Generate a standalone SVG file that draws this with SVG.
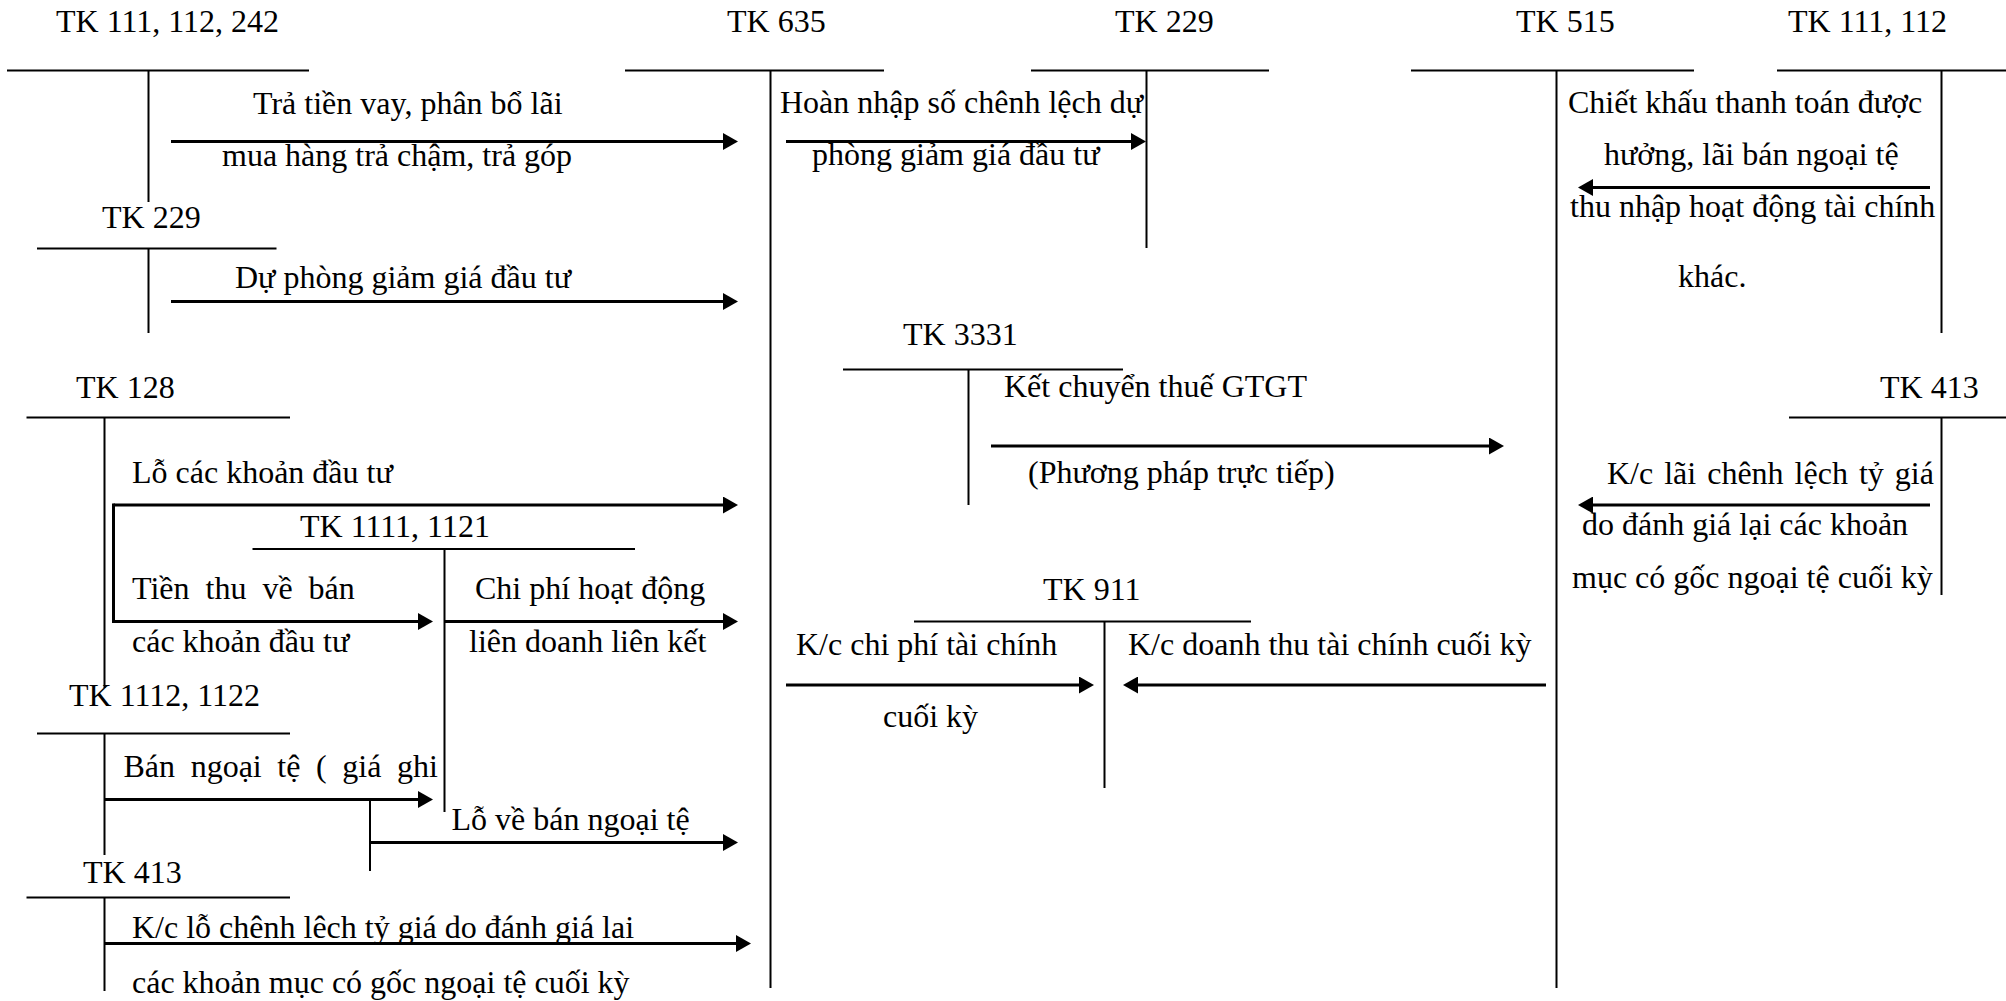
<svg xmlns="http://www.w3.org/2000/svg" width="2006" height="1001" viewBox="0 0 2006 1001">
  <style>
    text { font-family: "Liberation Serif", "Times New Roman", serif; font-size: 32px; fill: #000; }
    .t { stroke: #000; stroke-width: 2; fill: none; }
    .a { stroke: #000; stroke-width: 3; fill: none; marker-end: url(#head); }
    .b { stroke: #000; stroke-width: 3; fill: none; }
  </style>
  <defs>
    <marker id="head" markerUnits="userSpaceOnUse" markerWidth="16" markerHeight="17" refX="9" refY="8.5" orient="auto">
      <path d="M0,0 L15,8.5 L0,17 Z" fill="#000"/>
    </marker>
  </defs>
  <rect width="2006" height="1001" fill="#fff"/>

  <!-- T-accounts -->
  <g id="tk111-112-242">
    <text x="56" y="32">TK 111, 112, 242</text>
    <line class="t" x1="7" y1="70.5" x2="309" y2="70.5"/>
    <line class="t" x1="148.5" y1="70.5" x2="148.5" y2="202"/>
  </g>
  <g id="tk635">
    <text x="727" y="32">TK 635</text>
    <line class="t" x1="625" y1="70.5" x2="884" y2="70.5"/>
    <line class="t" x1="770.5" y1="70.5" x2="770.5" y2="988"/>
  </g>
  <g id="tk229-top">
    <text x="1115" y="32">TK 229</text>
    <line class="t" x1="1031" y1="70.5" x2="1269" y2="70.5"/>
    <line class="t" x1="1146.5" y1="70.5" x2="1146.5" y2="248"/>
  </g>
  <g id="tk515">
    <text x="1516" y="32">TK 515</text>
    <line class="t" x1="1411" y1="70.5" x2="1694" y2="70.5"/>
    <line class="t" x1="1556.5" y1="70.5" x2="1556.5" y2="988"/>
  </g>
  <g id="tk111-112">
    <text x="1788" y="32">TK 111, 112</text>
    <line class="t" x1="1777" y1="70.5" x2="2006" y2="70.5"/>
    <line class="t" x1="1941.5" y1="70.5" x2="1941.5" y2="333"/>
  </g>
  <g id="tk229-left">
    <text x="102" y="228">TK 229</text>
    <line class="t" x1="37" y1="248.5" x2="276.5" y2="248.5"/>
    <line class="t" x1="148.5" y1="248.5" x2="148.5" y2="333"/>
  </g>
  <g id="tk128">
    <text x="76" y="398">TK 128</text>
    <line class="t" x1="26.5" y1="417.5" x2="290" y2="417.5"/>
    <line class="t" x1="104.5" y1="417.5" x2="104.5" y2="688"/>
  </g>
  <g id="tk1111-1121">
    <text x="300" y="537">TK 1111, 1121</text>
    <line class="t" x1="252.5" y1="549" x2="635" y2="549"/>
    <line class="t" x1="444.5" y1="549" x2="444.5" y2="812"/>
  </g>
  <g id="tk3331">
    <text x="903" y="345">TK 3331</text>
    <line class="t" x1="843" y1="369.5" x2="1123" y2="369.5"/>
    <line class="t" x1="968.5" y1="369.5" x2="968.5" y2="505"/>
  </g>
  <g id="tk413-right">
    <text x="1880" y="398">TK 413</text>
    <line class="t" x1="1789" y1="417.5" x2="2006" y2="417.5"/>
    <line class="t" x1="1941.5" y1="417.5" x2="1941.5" y2="595"/>
  </g>
  <g id="tk911">
    <text x="1043" y="600">TK 911</text>
    <line class="t" x1="914" y1="621.5" x2="1251" y2="621.5"/>
    <line class="t" x1="1104.5" y1="621.5" x2="1104.5" y2="788"/>
  </g>
  <g id="tk1112-1122">
    <text x="69" y="706">TK 1112, 1122</text>
    <line class="t" x1="37" y1="733.5" x2="290" y2="733.5"/>
    <line class="t" x1="104.5" y1="733.5" x2="104.5" y2="855"/>
  </g>
  <g id="tk413-left">
    <text x="83" y="883">TK 413</text>
    <line class="t" x1="26.5" y1="897.5" x2="290" y2="897.5"/>
    <line class="t" x1="104.5" y1="897.5" x2="104.5" y2="991"/>
  </g>

  <!-- Connectors and their labels -->
  <g id="connectors">
    <!-- 111,112,242 -> 635 -->
    <line class="a" x1="171" y1="141.5" x2="732" y2="141.5"/>
    <text x="253" y="114">Trả tiền vay, phân bổ lãi</text>
    <text x="222" y="166">mua hàng trả chậm, trả góp</text>

    <!-- 229 -> 635 -->
    <line class="a" x1="171" y1="301.5" x2="732" y2="301.5"/>
    <text x="235" y="288">Dự phòng giảm giá đầu tư</text>

    <!-- 635 -> 229 -->
    <line class="a" x1="786" y1="141.5" x2="1140" y2="141.5"/>
    <text x="780" y="113">Hoàn nhập số chênh lệch dự</text>
    <text x="812" y="165">phòng giảm giá đầu tư</text>

    <!-- 111,112 -> 515 -->
    <line class="a" x1="1930" y1="187.5" x2="1584" y2="187.5"/>
    <text x="1568" y="113">Chiết khấu thanh toán được</text>
    <text x="1604" y="165">hưởng, lãi bán ngoại tệ</text>
    <text x="1570" y="217">thu nhập hoạt động tài chính</text>
    <text x="1678" y="287">khác.</text>

    <!-- 3331 -> 515 -->
    <line class="a" x1="991" y1="446" x2="1498" y2="446"/>
    <text x="1004" y="397">Kết chuyển thuế GTGT</text>
    <text x="1028" y="483">(Phương pháp trực tiếp)</text>

    <!-- 128 -> 635 and 128 -> 1111,1121 -->
    <line class="a" x1="113.5" y1="505" x2="732" y2="505"/>
    <line class="b" x1="113.5" y1="503.5" x2="113.5" y2="623"/>
    <line class="a" x1="112" y1="621.5" x2="427" y2="621.5"/>
    <text x="132" y="483">Lỗ các khoản đầu tư</text>
    <text x="132" y="599" word-spacing="8">Tiền thu về bán</text>
    <text x="132" y="652">các khoản đầu tư</text>

    <!-- 1111,1121 -> 635 -->
    <line class="a" x1="445" y1="621.5" x2="732" y2="621.5"/>
    <text x="475" y="599">Chi phí hoạt động</text>
    <text x="469" y="652">liên doanh liên kết</text>

    <!-- 413 (right) -> 515 -->
    <line class="a" x1="1930" y1="505" x2="1584" y2="505"/>
    <text x="1607" y="484" word-spacing="3">K/c lãi chênh lệch tỷ giá</text>
    <text x="1582" y="535">do đánh giá lại các khoản</text>
    <text x="1572" y="588">mục có gốc ngoại tệ cuối kỳ</text>

    <!-- 635 -> 911 and 515 -> 911 -->
    <line class="a" x1="786" y1="685" x2="1088" y2="685"/>
    <line class="a" x1="1546" y1="685" x2="1129" y2="685"/>
    <text x="796" y="655">K/c chi phí tài chính</text>
    <text x="883" y="727">cuối kỳ</text>
    <text x="1128" y="655">K/c doanh thu tài chính cuối kỳ</text>

    <!-- 1112,1122 -> 1111,1121 and -> 635 -->
    <line class="a" x1="104.5" y1="799.5" x2="427" y2="799.5"/>
    <line class="t" x1="370" y1="799.5" x2="370" y2="871"/>
    <line class="a" x1="370" y1="842.5" x2="732" y2="842.5"/>
    <text x="123.5" y="777" word-spacing="7.6">Bán ngoại tệ ( giá ghi</text>
    <text x="451.5" y="830">Lỗ về bán ngoại tệ</text>

    <!-- 413 (left) -> 635 -->
    <line class="a" x1="104.5" y1="943.5" x2="745" y2="943.5"/>
    <text x="132" y="938">K/c lỗ chênh lêch tỷ giá do đánh giá lai</text>
    <text x="132" y="993">các khoản mục có gốc ngoại tệ cuối kỳ</text>
  </g>
</svg>
